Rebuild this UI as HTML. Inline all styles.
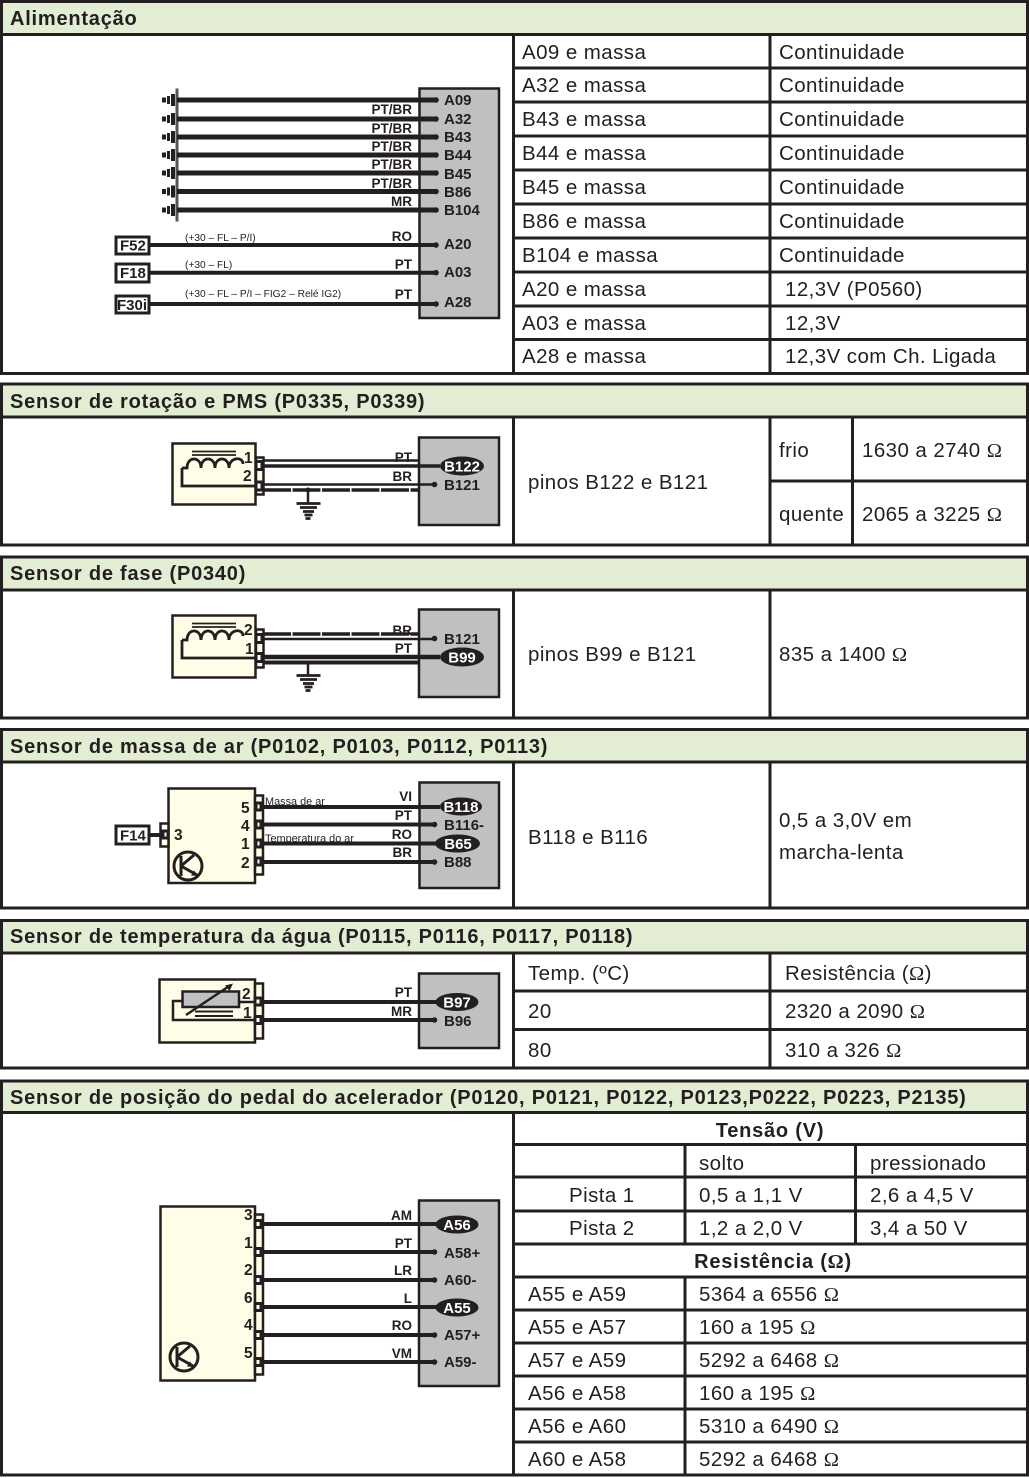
<!DOCTYPE html>
<html><head><meta charset="utf-8"><style>
html,body{margin:0;padding:0;background:#fff}
svg{display:block}
.t{font:20.5px "Liberation Sans",sans-serif;fill:#231f20;letter-spacing:.42px}
.h{font:bold 20px "Liberation Sans",sans-serif;fill:#231f20;letter-spacing:.78px}
.b{font:bold 15px "Liberation Sans",sans-serif;fill:#231f20}
.l{font:bold 13.5px "Liberation Sans",sans-serif;fill:#231f20;text-anchor:end}
.s{font:10.2px "Liberation Sans",sans-serif;fill:#231f20}
.m{font:10.9px "Liberation Sans",sans-serif;fill:#231f20}
.n{font:bold 15.5px "Liberation Sans",sans-serif;fill:#231f20}
.w{font:bold 15px "Liberation Sans",sans-serif;fill:#fff;text-anchor:middle}
.g{fill:#bfc0c2;stroke:#231f20;stroke-width:2.5}
.y{fill:#fffde8;stroke:#231f20;stroke-width:2.5}
.k{stroke:#231f20;fill:none}
.f{fill:#fff;stroke:#231f20;stroke-width:3}
.o{font-family:"Liberation Serif",serif}
</style></head><body>
<svg width="1029" height="1478" viewBox="0 0 1029 1478" xmlns="http://www.w3.org/2000/svg">
<defs>
<g id="gnd"><rect x="162" y="-2.5" width="4" height="5" fill="#231f20"/><rect x="167" y="-4" width="3" height="8" fill="#231f20"/><rect x="171" y="-6" width="4" height="12" fill="#231f20"/><rect x="175.500" y="-11.500" width="3" height="23" fill="#555"/></g>
<g id="tr"><circle r="14" fill="none" stroke="#231f20" stroke-width="3"/><path d="M-7-10V10M-7 0L6-11M-7 0L9 9" class="k" stroke-width="3"/><path d="M10 10l-7-.5 3-5z" fill="#231f20"/></g>
<g id="coil"><path d="M-5 12H0C0 0 14 0 14 12C14 0 28 0 28 12C28 0 42 0 42 12C42 1 56 0 56 8" class="k" stroke-width="2.800"/><path d="M5-4.500H49M5-1H49" class="k" stroke-width="1.800"/></g>
</defs>

<g fill="#e3edd4">
<rect x="2" y="3" width="1025" height="30"/><rect x="2" y="385" width="1025" height="31"/><rect x="2" y="558" width="1025" height="31"/><rect x="2" y="731" width="1025" height="30"/><rect x="2" y="921" width="1025" height="31"/><rect x="2" y="1082" width="1025" height="29"/>
</g>
<g fill="none" stroke="#231f20" stroke-width="3">
<rect x="1.5" y="1.5" width="1026" height="372"/>
<rect x="1.5" y="384" width="1026" height="161"/>
<rect x="1.5" y="557" width="1026" height="161"/>
<rect x="1.5" y="729.5" width="1026" height="178.5"/>
<rect x="1.5" y="920.5" width="1026" height="147.5"/>
<rect x="1.5" y="1081" width="1026" height="394"/>
<path d="M0 34.5H1029M0 417H1029M0 590H1029M0 762H1029M0 953H1029M0 1112.5H1029"/>
<path d="M513.5 34V373M770 34V373M513 68H1029M513 102H1029M513 136H1029M513 170H1029M513 204H1029M513 238H1029M513 272H1029M513 306H1029M513 339.5H1029"/>
<path d="M513.5 417V545M770 417V545M852.5 417V545M769 481H1029"/>
<path d="M513.5 590V718M770 590V718"/>
<path d="M513.5 762V908M770 762V908"/>
<path d="M513.5 953V1068M770 953V1068M513 991H1029M513 1029.5H1029"/>
<path d="M513.5 1112V1475M685 1144V1244M685 1277V1475M855.5 1144V1244M513 1144.5H1029M513 1177H1029M513 1211H1029M513 1244H1029M513 1277H1029M513 1310H1029M513 1343H1029M513 1376H1029M513 1409H1029M513 1442H1029"/>
</g>

<text class="h" x="10" y="25">Alimentação</text>
<text class="h" x="10" y="408">Sensor de rotação e PMS (P0335, P0339)</text>
<text class="h" x="10" y="580">Sensor de fase (P0340)</text>
<text class="h" x="10" y="753">Sensor de massa de ar (P0102, P0103, P0112, P0113)</text>
<text class="h" x="10" y="943">Sensor de temperatura da água (P0115, P0116, P0117, P0118)</text>
<text class="h" x="10" y="1104">Sensor de posição do pedal do acelerador (P0120, P0121, P0122, P0123,P0222, P0223, P2135)</text>

<g>
<text class="t" x="522" y="59">A09 e massa</text><text class="t" x="779" y="59">Continuidade</text>
<text class="t" x="522" y="92">A32 e massa</text><text class="t" x="779" y="92">Continuidade</text>
<text class="t" x="522" y="126">B43 e massa</text><text class="t" x="779" y="126">Continuidade</text>
<text class="t" x="522" y="160">B44 e massa</text><text class="t" x="779" y="160">Continuidade</text>
<text class="t" x="522" y="194">B45 e massa</text><text class="t" x="779" y="194">Continuidade</text>
<text class="t" x="522" y="228">B86 e massa</text><text class="t" x="779" y="228">Continuidade</text>
<text class="t" x="522" y="262">B104 e massa</text><text class="t" x="779" y="262">Continuidade</text>
<text class="t" x="522" y="296">A20 e massa</text><text class="t" x="785" y="296">12,3V (P0560)</text>
<text class="t" x="522" y="330">A03 e massa</text><text class="t" x="785" y="330">12,3V</text>
<text class="t" x="522" y="363">A28 e massa</text><text class="t" x="785" y="363">12,3V com Ch. Ligada</text>
<text class="t" x="528" y="489">pinos B122 e B121</text>
<text class="t" x="779" y="457">frio</text><text class="t" x="862" y="457">1630 a 2740 <tspan class="o">Ω</tspan></text>
<text class="t" x="779" y="521">quente</text><text class="t" x="862" y="521">2065 a 3225 <tspan class="o">Ω</tspan></text>
<text class="t" x="528" y="661">pinos B99 e B121</text><text class="t" x="779" y="661">835 a 1400 <tspan class="o">Ω</tspan></text>
<text class="t" x="528" y="844">B118 e B116</text>
<text class="t" x="779" y="827">0,5 a 3,0V em</text><text class="t" x="779" y="859">marcha-lenta</text>
<text class="t" x="528" y="980">Temp. (ºC)</text><text class="t" x="785" y="980">Resistência (<tspan class="o">Ω</tspan>)</text>
<text class="t" x="528" y="1018">20</text><text class="t" x="785" y="1018">2320 a 2090 <tspan class="o">Ω</tspan></text>
<text class="t" x="528" y="1057">80</text><text class="t" x="785" y="1057">310 a 326 <tspan class="o">Ω</tspan></text>
<text class="h" x="770" y="1137" text-anchor="middle">Tensão (V)</text>
<text class="t" x="699" y="1170">solto</text><text class="t" x="870" y="1170">pressionado</text>
<text class="t" x="569" y="1202">Pista 1</text><text class="t" x="699" y="1202">0,5 a 1,1 V</text><text class="t" x="870" y="1202">2,6 a 4,5 V</text>
<text class="t" x="569" y="1235">Pista 2</text><text class="t" x="699" y="1235">1,2 a 2,0 V</text><text class="t" x="870" y="1235">3,4 a 50 V</text>
<text class="h" x="773" y="1268" text-anchor="middle">Resistência (<tspan class="o">Ω</tspan>)</text>
<text class="t" x="528" y="1301">A55 e A59</text><text class="t" x="699" y="1301">5364 a 6556 <tspan class="o">Ω</tspan></text>
<text class="t" x="528" y="1334">A55 e A57</text><text class="t" x="699" y="1334">160 a 195 <tspan class="o">Ω</tspan></text>
<text class="t" x="528" y="1367">A57 e A59</text><text class="t" x="699" y="1367">5292 a 6468 <tspan class="o">Ω</tspan></text>
<text class="t" x="528" y="1400">A56 e A58</text><text class="t" x="699" y="1400">160 a 195 <tspan class="o">Ω</tspan></text>
<text class="t" x="528" y="1433">A56 e A60</text><text class="t" x="699" y="1433">5310 a 6490 <tspan class="o">Ω</tspan></text>
<text class="t" x="528" y="1466">A60 e A58</text><text class="t" x="699" y="1466">5292 a 6468 <tspan class="o">Ω</tspan></text>
</g>

<!-- diagram 1 -->
<rect class="g" x="419.5" y="88.5" width="79.5" height="229.5"/>
<use href="#gnd" y="100"/><use href="#gnd" y="119"/><use href="#gnd" y="137"/><use href="#gnd" y="155"/><use href="#gnd" y="173"/><use href="#gnd" y="191.5"/><use href="#gnd" y="210"/>
<g class="k" stroke-width="5"><path d="M177 100H436M177 119H436M177 137H436M177 155H436M177 173H436M177 191.5H436M177 210H436"/></g>
<g class="k" stroke-width="4"><path d="M149 245H436M149 272.7H436M149 304H436"/></g>
<g fill="#231f20"><circle cx="436" cy="100" r="2.8"/><circle cx="436" cy="119" r="2.8"/><circle cx="436" cy="137" r="2.8"/><circle cx="436" cy="155" r="2.8"/><circle cx="436" cy="173" r="2.8"/><circle cx="436" cy="191.5" r="2.8"/><circle cx="436" cy="210" r="2.8"/><circle cx="436" cy="245" r="2.8"/><circle cx="436" cy="272.7" r="2.8"/><circle cx="436" cy="304" r="2.8"/></g>
<text class="b" x="444" y="105">A09</text><text class="b" x="444" y="124">A32</text><text class="b" x="444" y="142">B43</text><text class="b" x="444" y="160">B44</text><text class="b" x="444" y="179">B45</text><text class="b" x="444" y="197">B86</text><text class="b" x="444" y="215">B104</text><text class="b" x="444" y="249">A20</text><text class="b" x="444" y="277">A03</text><text class="b" x="444" y="307">A28</text>
<text class="l" x="412" y="114">PT/BR</text><text class="l" x="412" y="133">PT/BR</text><text class="l" x="412" y="151">PT/BR</text><text class="l" x="412" y="169">PT/BR</text><text class="l" x="412" y="188">PT/BR</text><text class="l" x="412" y="206">MR</text><text class="l" x="412" y="241">RO</text><text class="l" x="412" y="269">PT</text><text class="l" x="412" y="299">PT</text>
<text class="s" x="185" y="241">(+30 – FL – P/I)</text><text class="s" x="185" y="268">(+30 – FL)</text><text class="s" x="185" y="297">(+30 – FL – P/I – FIG2 – Relé IG2)</text>
<rect class="f" x="116" y="237" width="33" height="17"/><rect class="f" x="116" y="264" width="33" height="18"/><rect class="f" x="116" y="296" width="33" height="17"/>
<text class="b" x="120" y="250.500">F52</text><text class="b" x="120" y="278">F18</text><text class="b" x="117" y="310">F30i</text>

<!-- diagram 2 -->
<rect class="g" x="419" y="437.5" width="80" height="87.5"/>
<rect class="y" x="172.5" y="443.5" width="83" height="61"/>
<rect class="y" x="256" y="457.5" width="7.5" height="37"/>
<use href="#coil" transform="translate(187,456)"/>
<path class="k" stroke-width="2.800" d="M182 468V486H256"/>
<path class="k" stroke-width="2.500" d="M263 460.5H418"/>
<path class="k" stroke-width="3.500" d="M263 466H440"/>
<path class="k" stroke-width="2.500" d="M263 484.5H434"/>
<path class="k" stroke-width="3.500" d="M263 490H418" stroke-dasharray="28 1.500"/>
<circle cx="434.500" cy="484.500" r="2.800" fill="#231f20"/>
<path class="k" stroke-width="2.500" d="M308 490V503"/><circle cx="308" cy="490" r="2.500" fill="#231f20"/>
<path d="M296.500 503.500H320.500M300 507.500H317M303 511.500H314M304.500 515H312.500M305.500 518.500H310.500" class="k" stroke-width="2.800"/>
<rect class="f" x="256" y="461.500" width="6" height="8" stroke-width="2"/><rect class="f" x="256" y="482" width="6" height="8" stroke-width="2"/>
<text class="n" x="244" y="463">1</text><text class="n" x="243" y="481">2</text>
<ellipse cx="462" cy="466" rx="22" ry="9.500" fill="#231f20"/><text class="w" x="462" y="471.500">B122</text>
<text class="b" x="444" y="490">B121</text>
<text class="l" x="412" y="462">PT</text><text class="l" x="412" y="481">BR</text>

<!-- diagram 3 -->
<rect class="g" x="419" y="609.500" width="80" height="87.500"/>
<rect class="y" x="172.500" y="615.500" width="83" height="62"/>
<rect class="y" x="256" y="629.500" width="7.500" height="38"/>
<use href="#coil" transform="translate(187,628)"/>
<path class="k" stroke-width="2.800" d="M182 640V658H256"/>
<path class="k" stroke-width="3.500" d="M263 634H418" stroke-dasharray="28 1.500"/>
<path class="k" stroke-width="2.500" d="M263 639H434"/>
<circle cx="434.500" cy="638.500" r="2.800" fill="#231f20"/>
<path class="k" stroke-width="4.500" d="M263 657H440"/>
<path class="k" stroke-width="4" d="M263 662.500H418"/>
<path class="k" stroke-width="2.500" d="M308 662V675"/>
<path d="M296.500 675.500H320.500M300 679.500H317M303 683.500H314M304.500 687H312.500M305.500 690.500H310.500" class="k" stroke-width="2.800"/>
<rect class="f" x="256" y="634.500" width="6" height="8" stroke-width="2"/><rect class="f" x="256" y="653.500" width="6" height="8" stroke-width="2"/>
<text class="n" x="244" y="635">2</text><text class="n" x="245" y="654">1</text>
<ellipse cx="462" cy="657" rx="22" ry="9.500" fill="#231f20"/><text class="w" x="462" y="662.500">B99</text>
<text class="b" x="444" y="644">B121</text>
<text class="l" x="412" y="635">BR</text><text class="l" x="412" y="653">PT</text>

<!-- diagram 4 -->
<rect class="g" x="419.500" y="782.500" width="79.500" height="105.500"/>
<rect class="y" x="168.500" y="788.500" width="86.500" height="94.500"/>
<rect class="y" x="255" y="795.500" width="8" height="79"/>
<rect class="y" x="160.500" y="823.500" width="8" height="23"/>
<path class="k" stroke-width="4" d="M149 835H160"/>
<path class="k" stroke-width="4" d="M262 807H440M262 824.500H434M262 843.500H440M262 862H434"/>
<circle cx="434.500" cy="824.500" r="2.800" fill="#231f20"/><circle cx="434.500" cy="862" r="2.800" fill="#231f20"/>
<rect class="f" x="256" y="803" width="5" height="7" stroke-width="1.800"/><rect class="f" x="256" y="821" width="5" height="7" stroke-width="1.800"/><rect class="f" x="256" y="840" width="5" height="7" stroke-width="1.800"/><rect class="f" x="256" y="858" width="5" height="7" stroke-width="1.800"/><rect class="f" x="163" y="831" width="5" height="7" stroke-width="1.800"/>
<text class="n" x="241" y="813">5</text><text class="n" x="241" y="831">4</text><text class="n" x="241" y="849">1</text><text class="n" x="241" y="868">2</text><text class="n" x="174" y="840">3</text>
<use href="#tr" transform="translate(188,866)"/>
<rect class="f" x="116" y="826" width="33" height="18"/><text class="b" x="120" y="840.500">F14</text>
<text class="m" x="265" y="805">Massa de ar</text><text class="m" x="265" y="842">Temperatura do ar</text>
<ellipse cx="461" cy="806.500" rx="21" ry="9" fill="#231f20"/><text class="w" x="461" y="812">B118</text>
<ellipse cx="457.500" cy="843.500" rx="22.500" ry="9" fill="#231f20"/><text class="w" x="458" y="849">B65</text>
<text class="b" x="444" y="830">B116-</text><text class="b" x="444" y="867">B88</text>
<text class="l" x="412" y="801">VI</text><text class="l" x="412" y="820">PT</text><text class="l" x="412" y="839">RO</text><text class="l" x="412" y="857">BR</text>

<!-- diagram 5 -->
<rect class="g" x="419" y="973.500" width="80" height="74.500"/>
<rect class="y" x="159.500" y="979.500" width="95.500" height="63"/>
<rect class="y" x="255" y="983.500" width="8" height="55"/>
<rect x="182.500" y="991.500" width="56.500" height="15.500" fill="#bfc0c2" stroke="#231f20" stroke-width="2.500"/>
<path class="k" stroke-width="2.500" d="M239 1002H256M182 1001H173V1020H256"/>
<path class="k" stroke-width="2.500" d="M186 1015L230 985.500"/><path d="M233 983.500l-8 2 4.500 5.500z" fill="#231f20"/>
<path class="k" stroke-width="2" d="M195 1011.500H233M195 1016H233"/>
<path class="k" stroke-width="4" d="M260 1002H440M260 1020H434"/>
<circle cx="434.500" cy="1020" r="2.800" fill="#231f20"/>
<rect class="f" x="255" y="998" width="6" height="7" stroke-width="1.500"/><rect class="f" x="255" y="1016.500" width="6" height="7" stroke-width="1.500"/>
<text class="n" x="242" y="999">2</text><text class="n" x="243" y="1018">1</text>
<ellipse cx="457" cy="1002" rx="21.500" ry="9" fill="#231f20"/><text class="w" x="457" y="1007.500">B97</text>
<text class="b" x="444" y="1026">B96</text>
<text class="l" x="412" y="997">PT</text><text class="l" x="412" y="1016">MR</text>

<!-- diagram 6 -->
<rect class="g" x="419" y="1200.500" width="80" height="185.500"/>
<rect class="y" x="160.500" y="1206.500" width="94.500" height="174"/>
<rect class="y" x="255" y="1214.500" width="8" height="160"/>
<path class="k" stroke-width="4" d="M260 1224H440M260 1252H434M260 1280H434M260 1307H440M260 1335H434M260 1362H434"/>
<g fill="#231f20"><circle cx="434.500" cy="1252" r="2.800"/><circle cx="434.500" cy="1280" r="2.800"/><circle cx="434.500" cy="1335" r="2.800"/><circle cx="434.500" cy="1362" r="2.800"/></g>
<g><rect class="f" x="255" y="1220.500" width="6" height="7" stroke-width="1.800"/><rect class="f" x="255" y="1248.500" width="6" height="7" stroke-width="1.800"/><rect class="f" x="255" y="1276.500" width="6" height="7" stroke-width="1.800"/><rect class="f" x="255" y="1303.500" width="6" height="7" stroke-width="1.800"/><rect class="f" x="255" y="1331.500" width="6" height="7" stroke-width="1.800"/><rect class="f" x="255" y="1358.500" width="6" height="7" stroke-width="1.800"/></g>
<text class="n" x="244" y="1220">3</text><text class="n" x="244" y="1248">1</text><text class="n" x="244" y="1275">2</text><text class="n" x="244" y="1303">6</text><text class="n" x="244" y="1330">4</text><text class="n" x="244" y="1358">5</text>
<use href="#tr" transform="translate(184,1357)"/>
<ellipse cx="457" cy="1224.500" rx="21.500" ry="9" fill="#231f20"/><text class="w" x="457" y="1230">A56</text>
<ellipse cx="457" cy="1307.500" rx="21.500" ry="9" fill="#231f20"/><text class="w" x="457" y="1313">A55</text>
<text class="b" x="444" y="1258">A58+</text><text class="b" x="444" y="1285">A60-</text><text class="b" x="444" y="1340">A57+</text><text class="b" x="444" y="1367">A59-</text>
<text class="l" x="412" y="1220">AM</text><text class="l" x="412" y="1248">PT</text><text class="l" x="412" y="1275">LR</text><text class="l" x="412" y="1303">L</text><text class="l" x="412" y="1330">RO</text><text class="l" x="412" y="1358">VM</text>
</svg>
</body></html>
